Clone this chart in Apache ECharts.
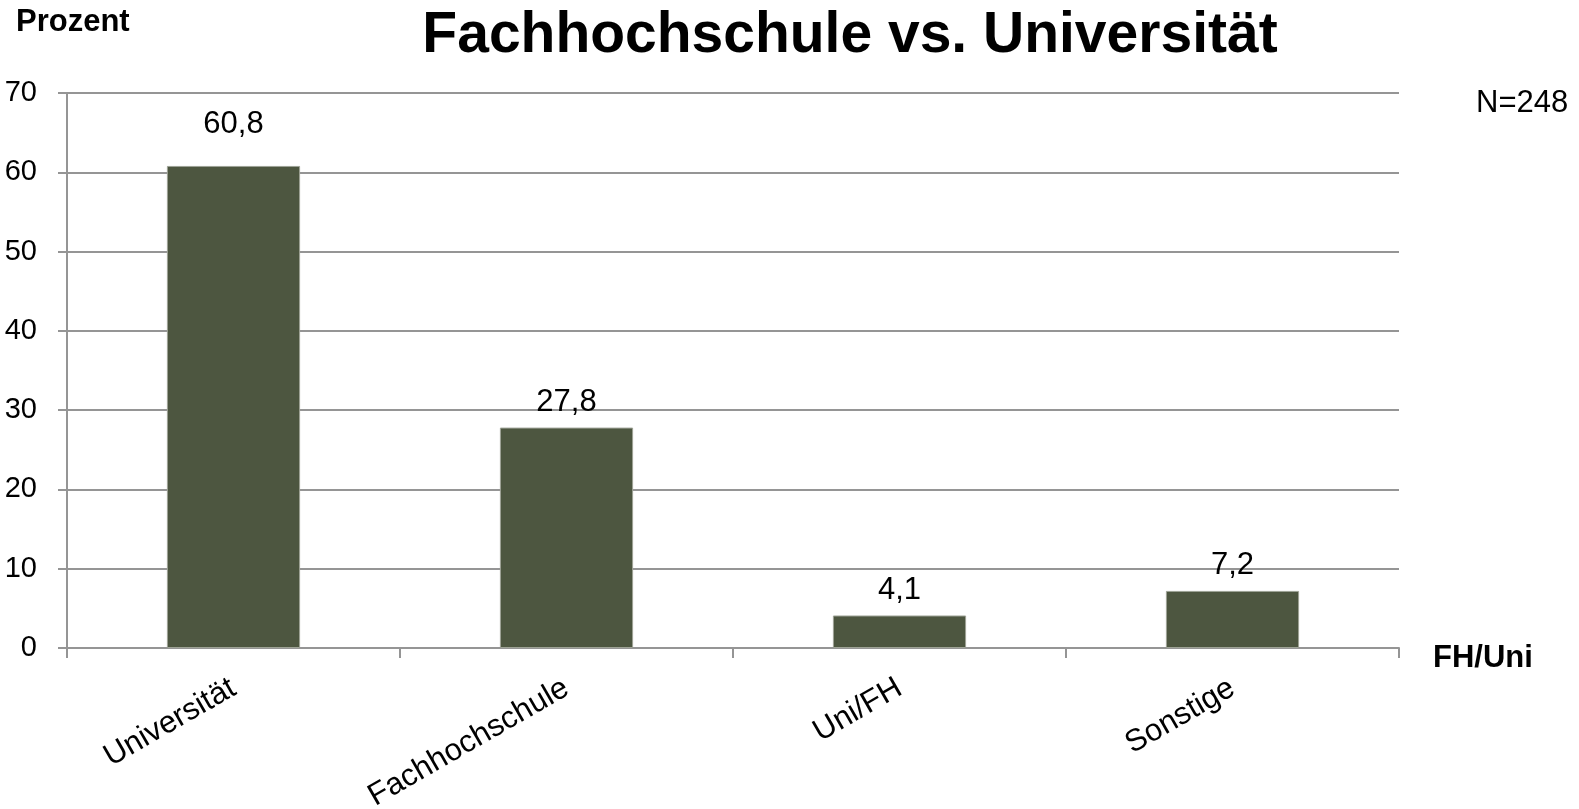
<!DOCTYPE html>
<html>
<head>
<meta charset="utf-8">
<title>Fachhochschule vs. Universität</title>
<script src="https://cdn.jsdelivr.net/npm/echarts@6/dist/echarts.min.js"></script>
<style>
  html, body { margin: 0; padding: 0; background: #fff; }
  #chart_fh { width: 1579px; height: 809px; }
</style>
</head>
<body>
<div id="chart_fh"></div>
<script>
// Daten
const categories = ['Universität', 'Fachhochschule', 'Uni/FH', 'Sonstige'];
const values = [60.8, 27.8, 4.1, 7.2];
const yTicks = [0, 10, 20, 30, 40, 50, 60, 70];

let myChart = echarts.init(document.getElementById('chart_fh'));
let font = 'Arial, "Liberation Sans", sans-serif';
let gray = '#959595';

let option = {
    animation: false,
    textStyle: { fontFamily: font },
    grid: {
        left: 67,
        right: 180,
        top: 93,
        bottom: 161,
        outerBoundsMode: 'none'
    },
    graphic: [
        {
            type: 'text', x: 16, y: 22,
            style: { text: 'Prozent', font: 'bold 31px ' + font, fill: '#000', verticalAlign: 'middle' }
        },
        {
            type: 'text', x: 850, y: 36,
            style: { text: 'Fachhochschule vs. Universität', font: 'bold 57px ' + font, fill: '#000', align: 'center', verticalAlign: 'middle' }
        },
        {
            type: 'text', x: 1476, y: 103,
            style: { text: 'N=248', font: '31px ' + font, fill: '#000', verticalAlign: 'middle' }
        },
        {
            type: 'text', x: 1433, y: 658,
            style: { text: 'FH/Uni', font: 'bold 31px ' + font, fill: '#000', verticalAlign: 'middle' }
        }
    ],
    xAxis: {
        type: 'category',
        data: categories,
        axisLine: { lineStyle: { color: gray, width: 2 } },
        axisTick: { show: true, length: 10, lineStyle: { color: gray, width: 2 } },
        axisLabel: {
            color: '#000',
            fontSize: 31,
            rotate: 30,
            margin: 38,
            interval: 0
        }
    },
    yAxis: {
        type: 'value',
        min: yTicks[0],
        max: yTicks[yTicks.length - 1],
        interval: 10,
        axisLine: { show: true, lineStyle: { color: gray, width: 2 } },
        axisTick: { show: true, length: 9, lineStyle: { color: gray, width: 2 } },
        axisLabel: { color: '#000', fontSize: 29, margin: 30 },
        splitLine: { lineStyle: { color: gray, width: 2 } }
    },
    series: []
};

option.series.push({
    type: 'bar',
    barWidth: '40%',
    itemStyle: {
        color: '#4d5640',
        borderColor: '#9ea396',
        borderWidth: 1
    },
    label: {
        show: true,
        position: 'top',
        distance: 10,
        color: '#000',
        fontSize: 31,
        formatter: p => String(p.value).replace('.', ',')
    },
    data: values.map((v, i) => i === 0 ? { value: v, label: { distance: 26 } } : v)
});

myChart.setOption(option, true);

window.addEventListener('resize', () => {
    myChart.resize();
});
</script>
</body>
</html>
